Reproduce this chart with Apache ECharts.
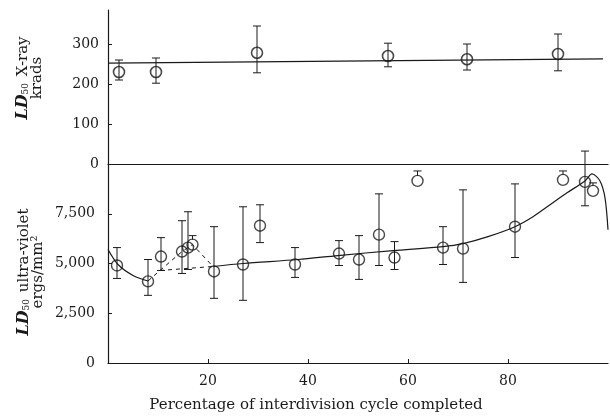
<!DOCTYPE html>
<html>
<head>
<meta charset="utf-8">
<script src="https://cdn.jsdelivr.net/npm/echarts@6.0.0/dist/echarts.min.js"></script>
<style>
  html, body { margin: 0; padding: 0; background: #fff; }
  #chart { width: 610px; height: 416px; }
</style>
</head>
<body>
<div id="chart"></div>
<script>
// X-ray LD50 (krads) vs % of cycle
var xrayX = [2.2, 9.6, 29.8, 56, 71.8, 90];
var xrayY = [230, 230, 278, 270, 262, 275];
var xrayLo = [210, 202, 228, 243, 235, 233];
var xrayHi = [260, 265, 345, 302, 300, 325];
var xrayLineX = [0, 99];
var xrayLineY = [252, 263];

// UV LD50 (ergs/mm2), null lo = only a short mark above the point
var uvX = [1.8, 8, 10.6, 14.8, 16, 16.9, 21.2, 27, 30.4, 37.4, 46.2, 50.2, 54.2, 57.3, 61.9, 67, 71, 81.4, 91, 95.4, 97];
var uvY = [4900, 4100, 5350, 5600, 5800, 5950, 4600, 4950, 6900, 4950, 5500, 5200, 6450, 5300, 9150, 5800, 5750, 6850, 9200, 9100, 8650];
var uvLo = [4250, 3400, 4650, 4500, 4700, null, 3250, 3150, 6050, 4300, 4900, 4200, 4900, 4700, null, 4950, 4050, 5300, null, 7900, null];
var uvHi = [5800, 5200, 6300, 7150, 7600, 6400, 6850, 7850, 7950, 5800, 6150, 6400, 8500, 6100, 9650, 6850, 8700, 9000, 9650, 10650, 9050];

// fitted curves
var curveAX = [0, 2, 5, 8];
var curveAY = [5700, 4950, 4400, 4120];
var curveBX = [21, 27, 38, 46, 57, 67, 71, 76, 81.4, 85, 88.4, 91.8, 95.4, 96.8, 98.4, 99.4, 100];
var curveBY = [4850, 5000, 5200, 5400, 5650, 5850, 6000, 6350, 6850, 7350, 7950, 8550, 9150, 9500, 9150, 8300, 6700];
var dashUpX = [8, 10.4, 14.8, 16, 16.9, 21];
var dashUpY = [4120, 4650, 5600, 5800, 5950, 4850];
var dashFlatX = [10.4, 21];
var dashFlatY = [4650, 4850];

var xTicks = [20, 40, 60, 80];
var xrayTicks = [0, 100, 200, 300];
var uvTicks = [0, 2500, 5000, 7500];

var ink = '#1a1a1a';
var serif = 'DejaVu Serif';

function pairs(xs, ys) {
    return xs.map(function (x, i) { return [x, ys[i]]; });
}

function errRender(lo, hi) {
    return function (params, api) {
        var i = params.dataIndex;
        var c = api.coord([api.value(0), api.value(1)]);
        var top = api.coord([api.value(0), hi[i]]);
        var hasLo = lo[i] != null;
        var bot = hasLo ? api.coord([api.value(0), lo[i]]) : [c[0], c[1] - 5];
        var w = 4;
        var st = { stroke: ink, lineWidth: 1 };
        var kids = [
            { type: 'line', shape: { x1: c[0], y1: top[1], x2: c[0], y2: bot[1] }, style: st },
            { type: 'line', shape: { x1: c[0] - w, y1: top[1], x2: c[0] + w, y2: top[1] }, style: st }
        ];
        if (hasLo) {
            kids.push({ type: 'line', shape: { x1: c[0] - w, y1: bot[1], x2: c[0] + w, y2: bot[1] }, style: st });
        }
        return { type: 'group', children: kids };
    };
}

var chart = echarts.init(document.getElementById('chart'));

var axisLine = { show: true, lineStyle: { color: ink, width: 1.2 } };
var labelStyle = { color: ink, fontFamily: serif, fontSize: 14 };

var titleRich = {
    i: { fontStyle: 'italic', fontWeight: 'bold', fontSize: 16, fontFamily: serif, fill: ink },
    s: { fontSize: 9, fontFamily: serif, fill: ink, verticalAlign: 'bottom', padding: [6, 2, 0, 0] }
};

var option = {
    animation: false,
    backgroundColor: '#fff',
    grid: [
        { left: 108, right: 2, top: 10, height: 154 },
        { left: 108, right: 2, top: 164, height: 199 }
    ],
    xAxis: [
        {
            gridIndex: 0, type: 'value', min: 0, max: 100,
            axisLine: axisLine, axisTick: { show: false }, axisLabel: { show: false },
            splitLine: { show: false }
        },
        {
            gridIndex: 1, type: 'value', min: 0, max: 100,
            axisLine: axisLine,
            axisTick: { inside: true, length: 4, customValues: xTicks, lineStyle: { color: ink } },
            axisLabel: Object.assign({ customValues: xTicks, margin: 11 }, labelStyle),
            splitLine: { show: false }
        }
    ],
    yAxis: [
        {
            gridIndex: 0, type: 'value', min: 0, max: 385,
            axisLine: axisLine,
            axisTick: { show: true, inside: true, length: 4, customValues: [100, 200, 300], lineStyle: { color: ink } },
            axisLabel: Object.assign({ customValues: xrayTicks, margin: 9 }, labelStyle),
            splitLine: { show: false }
        },
        {
            gridIndex: 1, type: 'value', min: 0, max: 10000,
            axisLine: axisLine,
            axisTick: { show: true, inside: true, length: 4, customValues: [2500, 5000, 7500], lineStyle: { color: ink } },
            axisLabel: Object.assign({
                customValues: uvTicks, margin: 13,
                formatter: function (v) { return Number(v).toLocaleString('en-US'); }
            }, labelStyle),
            splitLine: { show: false }
        }
    ],
    series: [
        {
            type: 'line', xAxisIndex: 0, yAxisIndex: 0, data: pairs(xrayLineX, xrayLineY),
            symbol: 'none', lineStyle: { color: ink, width: 1.3 }
        },
        {
            type: 'custom', xAxisIndex: 0, yAxisIndex: 0, data: pairs(xrayX, xrayY),
            renderItem: errRender(xrayLo, xrayHi), clip: false
        },
        {
            type: 'scatter', xAxisIndex: 0, yAxisIndex: 0, data: pairs(xrayX, xrayY),
            symbol: 'circle', symbolSize: 11,
            itemStyle: { color: 'rgba(0,0,0,0)', borderColor: ink, borderWidth: 1.6 }
        },
        {
            type: 'line', xAxisIndex: 1, yAxisIndex: 1, data: pairs(curveAX, curveAY),
            symbol: 'none', smooth: 0.3, lineStyle: { color: ink, width: 1.2 }
        },
        {
            type: 'line', xAxisIndex: 1, yAxisIndex: 1, data: pairs(curveBX, curveBY),
            symbol: 'none', smooth: 0.3, lineStyle: { color: ink, width: 1.2 }
        },
        {
            type: 'line', xAxisIndex: 1, yAxisIndex: 1, data: pairs(dashUpX, dashUpY),
            symbol: 'none', lineStyle: { color: ink, width: 1, type: [4, 4] }
        },
        {
            type: 'line', xAxisIndex: 1, yAxisIndex: 1, data: pairs(dashFlatX, dashFlatY),
            symbol: 'none', lineStyle: { color: ink, width: 1, type: [4, 4] }
        },
        {
            type: 'custom', xAxisIndex: 1, yAxisIndex: 1, data: pairs(uvX, uvY),
            renderItem: errRender(uvLo, uvHi), clip: false
        },
        {
            type: 'scatter', xAxisIndex: 1, yAxisIndex: 1, data: pairs(uvX, uvY),
            symbol: 'circle', symbolSize: 11,
            itemStyle: { color: 'rgba(0,0,0,0)', borderColor: ink, borderWidth: 1.4 }
        }
    ],
    graphic: [
        {
            type: 'text', x: 30, y: 78, rotation: Math.PI / 2,
            style: {
                text: '{i|LD}{s|50} X-ray\nkrads',
                align: 'center', verticalAlign: 'middle',
                fill: ink, fontFamily: serif, fontSize: 15, lineHeight: 14,
                rich: titleRich
            }
        },
        {
            type: 'text', x: 31, y: 272, rotation: Math.PI / 2,
            style: {
                text: '{i|LD}{s|50} ultra-violet\nergs/mm²',
                align: 'center', verticalAlign: 'middle',
                fill: ink, fontFamily: serif, fontSize: 15, lineHeight: 14,
                rich: titleRich
            }
        },
        {
            type: 'text', x: 316, y: 405,
            style: {
                text: 'Percentage of interdivision cycle completed',
                align: 'center', verticalAlign: 'middle',
                fill: ink, fontFamily: serif, fontSize: 15
            }
        }
    ]
};

chart.setOption(option);
</script>
</body>
</html>
